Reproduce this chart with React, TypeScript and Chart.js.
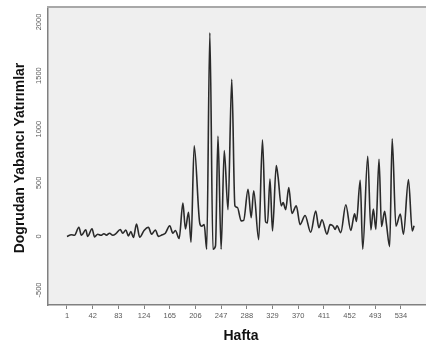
import React, { useEffect, useRef } from 'react';
import { Chart, registerables } from 'chart.js';

Chart.register(...registerables);

const weeks = [
  1, 8, 13, 20, 24, 31, 34, 41, 45, 50, 55, 60, 64, 69, 74, 79, 86, 90, 95, 99,
  103, 107, 112, 117, 124, 131, 136, 142, 147, 153, 158, 165, 170, 174, 180, 186, 190, 195, 199,
  204, 213, 216, 220, 224, 229, 234, 238, 242, 247, 252, 258, 264, 269, 273, 279, 283, 290, 295, 299,
  307, 313, 318, 321, 325, 329, 335, 338, 343, 346, 350, 355, 360, 367, 373, 381, 390, 398,
  403, 408, 416, 421, 426, 429, 432, 438, 446, 454, 460, 463, 469, 473, 481, 486, 490, 494, 499,
  503, 508, 511, 516, 520, 526, 533, 538, 546, 552, 555,
];

const values = [
  0, 15, 10, 85, 10, 62, 0, 72, -5, 20, 10, 25, 12, 30, 10, 25, 65, 30, 60, 5,
  45, -10, 115, -8, 55, 85, 20, 60, 0, 15, 30, 100, 30, 55, -20, 310, 70, 225, -55,
  845, 120, 95, 110, -120, 1900, -120, -90, 935, -120, 800, 250, 1465, 285, 270, 145, 150, 440, 175, 425,
  -30, 900, 135, 125, 535, 50, 660, 550, 285, 315, 250, 455, 215, 285, 110, 195, 38, 237,
  80, 155, 20, 110, 95, 65, 100, 35, 295, 55, 210, 140, 523, -120, 748, 60, 255, 65, 720,
  92, 235, 110, -95, 910, 95, 208, 20, 530, 50, 100,
];

const xTickLabels = [1, 42, 83, 124, 165, 206, 247, 288, 329, 370, 411, 452, 493, 534];
const yTickLabels = [-500, 0, 500, 1000, 1500, 2000];
const xTitle = 'Hafta';
const yTitle = 'Dogrudan Yabancı Yatırımlar';

export default function App() {
  const ref = useRef<HTMLCanvasElement>(null);

  useEffect(() => {
    document.body.style.margin = '0';
    const canvas = ref.current!;
    const framePlugin = {
      id: 'frame',
      beforeDraw(chart: any) {
        const { ctx, chartArea: a } = chart;
        ctx.save();
        ctx.fillStyle = '#efefef';
        ctx.fillRect(a.left, a.top, a.right - a.left, a.bottom - a.top);
        ctx.restore();
      },
      afterDraw(chart: any) {
        const { ctx, chartArea: a } = chart;
        ctx.save();
        ctx.strokeStyle = '#a8a8a8';
        ctx.lineWidth = 2;
        ctx.beginPath();
        ctx.moveTo(a.left - 1, a.top);
        ctx.lineTo(a.right, a.top);
        ctx.stroke();

        const ys = chart.scales.y;
        ctx.fillStyle = '#5a5a5a';
        ctx.font = '7.5px "Liberation Sans", Arial, sans-serif';
        ctx.textAlign = 'center';
        ctx.textBaseline = 'middle';
        for (const v of yTickLabels) {
          const py = ys.getPixelForValue(v);
          ctx.save();
          ctx.translate(39, py);
          ctx.rotate(-Math.PI / 2);
          ctx.fillText(String(v), 0, 0);
          ctx.restore();
        }

        ctx.fillStyle = '#111';
        ctx.font = 'bold 14px "Liberation Sans", Arial, sans-serif';
        ctx.textBaseline = 'alphabetic';
        ctx.save();
        ctx.translate(24, 158);
        ctx.rotate(-Math.PI / 2);
        ctx.fillText(yTitle, 0, 0);
        ctx.restore();

        ctx.fillText(xTitle, 241, 340);
        ctx.restore();
      },
    };

    const chart = new Chart(canvas, {
      type: 'line',
      data: {
        datasets: [
          {
            data: weeks.map((w, i) => ({ x: w, y: values[i] })),
            borderColor: '#2a2a2a',
            borderWidth: 1.6,
            pointRadius: 0,
            cubicInterpolationMode: 'monotone',
            fill: false,
          },
        ],
      },
      options: {
        responsive: false,
        animation: false,
        layout: { padding: { top: 7, right: 0, left: 0, bottom: 0 } },
        plugins: { legend: { display: false }, tooltip: { enabled: false } },
        scales: {
          x: {
            type: 'linear',
            min: -29.3,
            max: 574,
            afterBuildTicks: (s: any) => {
              s.ticks = xTickLabels.map((v) => ({ value: v }));
            },
            afterFit: (s: any) => {
              s.height = 44;
            },
            grid: { display: true, drawOnChartArea: false, drawTicks: true, tickLength: 4, color: '#808080' },
            border: { display: true, color: '#808080', width: 1.5 },
            ticks: {
              font: { size: 7.5, family: '"Liberation Sans", Arial, sans-serif' },
              color: '#5a5a5a',
              padding: 2,
              maxRotation: 0,
              minRotation: 0,
              autoSkip: false,
              callback: (v: any) => String(v),
            },
          },
          y: {
            type: 'linear',
            min: -640,
            max: 2140,
            afterBuildTicks: (s: any) => {
              s.ticks = yTickLabels.map((v) => ({ value: v }));
            },
            afterFit: (s: any) => {
              s.width = 48;
            },
            grid: { display: true, drawOnChartArea: false, drawTicks: false },
            border: { display: true, color: '#808080', width: 1.5 },
            ticks: { display: false },
          },
        },
      } as any,
      plugins: [framePlugin],
    });
    return () => chart.destroy();
  }, []);

  return <canvas ref={ref} width={426} height={349} style={{ display: 'block' }} />;
}
